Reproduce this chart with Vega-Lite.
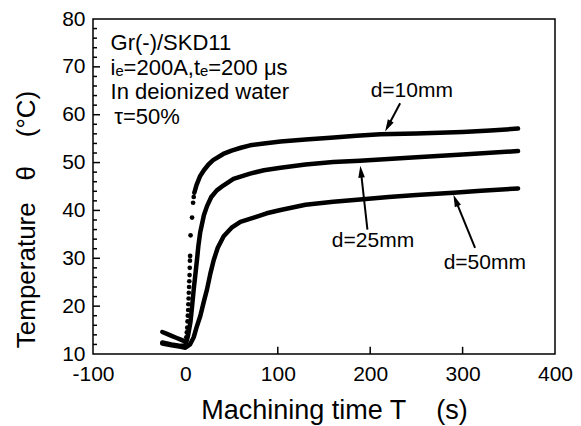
{
  "$schema": "https://vega.github.io/schema/vega-lite/v6.json",
  "width": 462,
  "height": 335,
  "autosize": {"type": "none"},
  "padding": {"left": 93, "top": 19, "right": 26, "bottom": 72},
  "background": "white",
  "config": {
    "view": {"stroke": "black", "strokeWidth": 1.5},
    "font": "Liberation Sans",
    "axis": {"labelColor": "black", "titleColor": "black", "grid": false, "labelFont": "Liberation Sans", "titleFont": "Liberation Sans"}
  },
  "datasets": {
    "curves": [
      {"seg": "10a", "x": -25, "y": 14.6}, {"seg": "10a", "x": -20, "y": 14.2}, {"seg": "10a", "x": -15, "y": 13.8}, {"seg": "10a", "x": -10, "y": 13.4}, {"seg": "10a", "x": -5, "y": 13.0}, {"seg": "10a", "x": 0, "y": 12.6},
      {"seg": "10b", "x": 9.7, "y": 43.7}, {"seg": "10b", "x": 12, "y": 45.3}, {"seg": "10b", "x": 16, "y": 47.2}, {"seg": "10b", "x": 20, "y": 48.4}, {"seg": "10b", "x": 25, "y": 49.6}, {"seg": "10b", "x": 30, "y": 50.5}, {"seg": "10b", "x": 41, "y": 51.8}, {"seg": "10b", "x": 50, "y": 52.5}, {"seg": "10b", "x": 60, "y": 53.1}, {"seg": "10b", "x": 70, "y": 53.6}, {"seg": "10b", "x": 85, "y": 54.0}, {"seg": "10b", "x": 103, "y": 54.4}, {"seg": "10b", "x": 130, "y": 54.8}, {"seg": "10b", "x": 157, "y": 55.2}, {"seg": "10b", "x": 185, "y": 55.6}, {"seg": "10b", "x": 211, "y": 55.9}, {"seg": "10b", "x": 250, "y": 56.1}, {"seg": "10b", "x": 300, "y": 56.4}, {"seg": "10b", "x": 330, "y": 56.7}, {"seg": "10b", "x": 360, "y": 57.1},
      {"seg": "25", "x": -25, "y": 12.4}, {"seg": "25", "x": -15, "y": 12.0}, {"seg": "25", "x": -5, "y": 11.7}, {"seg": "25", "x": 0, "y": 11.7}, {"seg": "25", "x": 3, "y": 14.0}, {"seg": "25", "x": 5.4, "y": 16.6}, {"seg": "25", "x": 7, "y": 19.5}, {"seg": "25", "x": 9, "y": 23.5}, {"seg": "25", "x": 11, "y": 27.0}, {"seg": "25", "x": 12.6, "y": 29.8}, {"seg": "25", "x": 14, "y": 32.5}, {"seg": "25", "x": 16, "y": 35.4}, {"seg": "25", "x": 20, "y": 39.0}, {"seg": "25", "x": 23.4, "y": 40.9}, {"seg": "25", "x": 28, "y": 42.8}, {"seg": "25", "x": 34, "y": 44.2}, {"seg": "25", "x": 41, "y": 45.2}, {"seg": "25", "x": 52, "y": 46.6}, {"seg": "25", "x": 70, "y": 47.7}, {"seg": "25", "x": 85, "y": 48.4}, {"seg": "25", "x": 103, "y": 48.9}, {"seg": "25", "x": 130, "y": 49.6}, {"seg": "25", "x": 160, "y": 50.1}, {"seg": "25", "x": 189, "y": 50.4}, {"seg": "25", "x": 250, "y": 51.1}, {"seg": "25", "x": 300, "y": 51.7}, {"seg": "25", "x": 360, "y": 52.4},
      {"seg": "50", "x": -25, "y": 12.2}, {"seg": "50", "x": -15, "y": 11.8}, {"seg": "50", "x": -5, "y": 11.5}, {"seg": "50", "x": 0, "y": 11.3}, {"seg": "50", "x": 5, "y": 12.0}, {"seg": "50", "x": 9, "y": 13.5}, {"seg": "50", "x": 12, "y": 15.5}, {"seg": "50", "x": 16.2, "y": 18.0}, {"seg": "50", "x": 20, "y": 21.0}, {"seg": "50", "x": 23.4, "y": 23.5}, {"seg": "50", "x": 27, "y": 26.8}, {"seg": "50", "x": 30.6, "y": 29.6}, {"seg": "50", "x": 35, "y": 32.2}, {"seg": "50", "x": 41.4, "y": 34.6}, {"seg": "50", "x": 50, "y": 36.4}, {"seg": "50", "x": 59.5, "y": 37.6}, {"seg": "50", "x": 75.7, "y": 38.6}, {"seg": "50", "x": 88, "y": 39.4}, {"seg": "50", "x": 103, "y": 40.1}, {"seg": "50", "x": 130, "y": 41.2}, {"seg": "50", "x": 160, "y": 41.8}, {"seg": "50", "x": 189, "y": 42.3}, {"seg": "50", "x": 220, "y": 42.8}, {"seg": "50", "x": 250, "y": 43.2}, {"seg": "50", "x": 290, "y": 43.7}, {"seg": "50", "x": 320, "y": 44.1}, {"seg": "50", "x": 360, "y": 44.6}
    ],
    "dots": [
      {"x": 1.0, "y": 13.5}, {"x": 1.5, "y": 14.5}, {"x": 2.0, "y": 15.5}, {"x": 2.3, "y": 16.8}, {"x": 2.6, "y": 18.0}, {"x": 3.0, "y": 19.2}, {"x": 3.2, "y": 20.4}, {"x": 3.5, "y": 21.6}, {"x": 3.7, "y": 22.8}, {"x": 4.0, "y": 24.0}, {"x": 4.2, "y": 25.2}, {"x": 4.5, "y": 26.5}, {"x": 4.7, "y": 28.0}, {"x": 4.9, "y": 29.5}, {"x": 5.1, "y": 30.5}, {"x": 5.6, "y": 34.8}, {"x": 7.2, "y": 38.5}, {"x": 8.3, "y": 41.6}, {"x": 9.0, "y": 42.8}
    ],
    "yticks": [
      {"v": 12, "major": false}, {"v": 14, "major": false}, {"v": 16, "major": false}, {"v": 18, "major": false}, {"v": 20, "major": true},
      {"v": 22, "major": false}, {"v": 24, "major": false}, {"v": 26, "major": false}, {"v": 28, "major": false}, {"v": 30, "major": true},
      {"v": 32, "major": false}, {"v": 34, "major": false}, {"v": 36, "major": false}, {"v": 38, "major": false}, {"v": 40, "major": true},
      {"v": 42, "major": false}, {"v": 44, "major": false}, {"v": 46, "major": false}, {"v": 48, "major": false}, {"v": 50, "major": true},
      {"v": 52, "major": false}, {"v": 54, "major": false}, {"v": 56, "major": false}, {"v": 58, "major": false}, {"v": 60, "major": true},
      {"v": 62, "major": false}, {"v": 64, "major": false}, {"v": 66, "major": false}, {"v": 68, "major": false}, {"v": 70, "major": true},
      {"v": 72, "major": false}, {"v": 74, "major": false}, {"v": 76, "major": false}, {"v": 78, "major": false}
    ],
    "xticks": [{"v": 100}, {"v": 200}, {"v": 300}],
    "notes": [
      {"x": -81, "y": 74.9, "text": "Gr(-)/SKD11"},
      {"x": -81, "y": 69.8, "text": "iₑ=200A,tₑ=200 μs"},
      {"x": -81, "y": 64.8, "text": "In deionized water"},
      {"x": -77, "y": 59.6, "text": "τ=50%"}
    ],
    "labels": [
      {"x": 245, "y": 64.9, "text": "d=10mm"},
      {"x": 203, "y": 33.6, "text": "d=25mm"},
      {"x": 324, "y": 29.1, "text": "d=50mm"}
    ],
    "arrows": [
      {"d": "10mm", "x": 232.4, "y": 62.4, "x2": 219.2, "y2": 57.6},
      {"d": "25mm", "x": 197, "y": 36, "x2": 190, "y2": 48.1},
      {"d": "50mm", "x": 313.5, "y": 32.2, "x2": 292.5, "y2": 42.1}
    ]
  },
  "encoding": {
    "x": {"type": "quantitative", "scale": {"domain": [-100, 400], "nice": false, "zero": false},
      "axis": {"orient": "bottom", "values": [-100, 0, 100, 200, 300, 400], "labelExpr": "'' + datum.value", "ticks": false, "domain": false, "labelFontSize": 21, "labelPadding": 9, "labelFlush": false,
        "title": "Machining time T\u00a0\u00a0\u00a0\u00a0(s)", "titleFontSize": 27, "titleFontWeight": "normal", "titleX": 241, "titleY": 64, "titleBaseline": "alphabetic"}},
    "y": {"type": "quantitative", "scale": {"domain": [10, 80], "nice": false, "zero": false},
      "axis": {"orient": "left", "values": [10, 20, 30, 40, 50, 60, 70, 80], "labelExpr": "'' + datum.value", "ticks": false, "domain": false, "labelFontSize": 21, "labelPadding": 8, "labelFlush": false,
        "title": "Temperature\u00a0\u00a0\u00a0θ\u00a0\u00a0\u00a0\u00a0(°C)", "titleFontSize": 26, "titleFontWeight": "normal", "titleX": -59, "titleY": 200, "titleBaseline": "alphabetic"}}
  },
  "layer": [
    {
      "data": {"name": "yticks"},
      "transform": [{"filter": "datum.major"}],
      "mark": {"type": "rule", "color": "black", "strokeWidth": 1.5},
      "encoding": {"x": {"datum": -100, "type": "quantitative"}, "x2": {"datum": -92.4}, "y": {"field": "v", "type": "quantitative"}}
    },
    {
      "data": {"name": "yticks"},
      "transform": [{"filter": "!datum.major"}],
      "mark": {"type": "rule", "color": "black", "strokeWidth": 1.5},
      "encoding": {"x": {"datum": -100, "type": "quantitative"}, "x2": {"datum": -95.7}, "y": {"field": "v", "type": "quantitative"}}
    },
    {
      "data": {"name": "xticks"},
      "mark": {"type": "rule", "color": "black", "strokeWidth": 1.5},
      "encoding": {"x": {"field": "v", "type": "quantitative"}, "y": {"datum": 10, "type": "quantitative"}, "y2": {"datum": 11.5}}
    },
    {
      "data": {"name": "curves"},
      "mark": {"type": "line", "color": "black", "strokeWidth": 4.5, "strokeCap": "round", "strokeJoin": "round"},
      "encoding": {
        "x": {"field": "x", "type": "quantitative"},
        "y": {"field": "y", "type": "quantitative"},
        "detail": {"field": "seg"}
      }
    },
    {
      "data": {"name": "dots"},
      "mark": {"type": "point", "filled": true, "color": "black", "opacity": 1, "size": 22},
      "encoding": {
        "x": {"field": "x", "type": "quantitative"},
        "y": {"field": "y", "type": "quantitative"}
      }
    },
    {
      "data": {"name": "notes"},
      "mark": {"type": "text", "align": "left", "baseline": "middle", "fontSize": 22, "color": "black", "font": "Liberation Sans"},
      "encoding": {
        "x": {"field": "x", "type": "quantitative"},
        "y": {"field": "y", "type": "quantitative"},
        "text": {"field": "text"}
      }
    },
    {
      "data": {"name": "labels"},
      "mark": {"type": "text", "align": "center", "baseline": "middle", "fontSize": 21, "color": "black", "font": "Liberation Sans"},
      "encoding": {
        "x": {"field": "x", "type": "quantitative"},
        "y": {"field": "y", "type": "quantitative"},
        "text": {"field": "text"}
      }
    },
    {
      "data": {"name": "arrows"},
      "mark": {"type": "rule", "color": "black", "strokeWidth": 2},
      "encoding": {
        "x": {"field": "x", "type": "quantitative"},
        "y": {"field": "y", "type": "quantitative"},
        "x2": {"field": "x2"},
        "y2": {"field": "y2"}
      }
    },
    {
      "data": {"name": "arrows"},
      "transform": [{"filter": "datum.d === '10mm'"}],
      "mark": {"type": "point", "shape": "M-0.55,1L0,-1L0.55,1Z", "filled": true, "color": "black", "opacity": 1, "size": 144, "angle": 208},
      "encoding": {
        "x": {"field": "x2", "type": "quantitative"},
        "y": {"field": "y2", "type": "quantitative"}
      }
    },
    {
      "data": {"name": "arrows"},
      "transform": [{"filter": "datum.d === '25mm'"}],
      "mark": {"type": "point", "shape": "M-0.55,1L0,-1L0.55,1Z", "filled": true, "color": "black", "opacity": 1, "size": 144, "angle": 354},
      "encoding": {
        "x": {"field": "x2", "type": "quantitative"},
        "y": {"field": "y2", "type": "quantitative"}
      }
    },
    {
      "data": {"name": "arrows"},
      "transform": [{"filter": "datum.d === '50mm'"}],
      "mark": {"type": "point", "shape": "M-0.55,1L0,-1L0.55,1Z", "filled": true, "color": "black", "opacity": 1, "size": 144, "angle": 338},
      "encoding": {
        "x": {"field": "x2", "type": "quantitative"},
        "y": {"field": "y2", "type": "quantitative"}
      }
    }
  ]
}
